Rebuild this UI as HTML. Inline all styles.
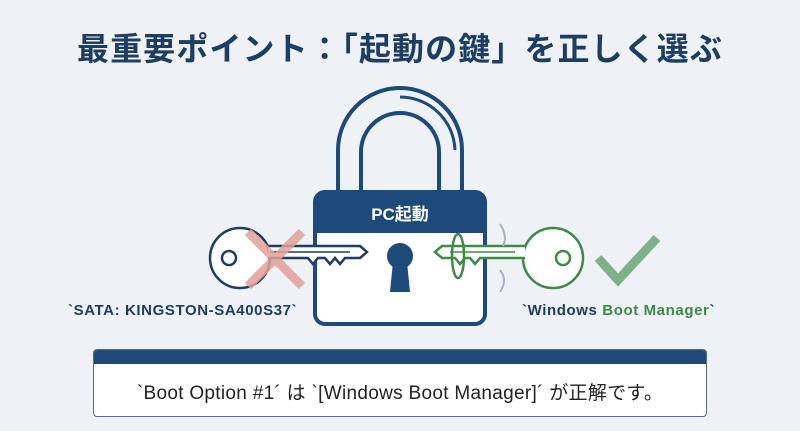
<!DOCTYPE html>
<html><head><meta charset="utf-8"><style>
body{margin:0;width:800px;height:431px;background:#eef1f5;overflow:hidden;position:relative;font-family:"Liberation Sans","Noto Sans CJK JP",sans-serif}
.t{position:absolute;left:0;width:800px;text-align:center;top:24px;font-size:32px;font-weight:bold;color:#1d3d63;letter-spacing:1.1px}
.lab{position:absolute;font-size:15px;font-weight:bold;color:#1d3d63;top:302px;letter-spacing:0.6px}
.box{position:absolute;left:93px;top:349px;width:612px;height:66px;background:#fff;border:1px solid #5a6a80;border-radius:4px;overflow:hidden}
.box .h{height:14px;background:#1d4a7a}
.box .x{text-align:center;font-size:19px;color:#222;margin-top:14px;letter-spacing:0.3px}
</style></head><body>
<div class="t">最重要ポイント：「起動の鍵」を正しく選ぶ</div>
<svg width="800" height="431" style="position:absolute;left:0;top:0">
<path d="M338 192 V150 A62 62 0 0 1 462 150 V192" fill="none" stroke="#1d4a7a" stroke-width="4"/>
<path d="M361 192 V152 A39 39 0 0 1 439 152 V192" fill="none" stroke="#1d4a7a" stroke-width="4"/>
<path d="M400 97 A55 55 0 0 1 455 150" fill="none" stroke="#1d4a7a" stroke-width="3"/>
<rect x="315" y="192" width="170" height="132" rx="10" fill="#fff" stroke="#1d4a7a" stroke-width="4"/>
<path d="M315 202 A10 10 0 0 1 325 192 H475 A10 10 0 0 1 485 202 V233 H315Z" fill="#1d4a7a"/>
<text x="400" y="220" text-anchor="middle" font-size="17" font-weight="bold" fill="#fff" font-family="Liberation Sans,Noto Sans CJK JP,sans-serif">PC起動</text>
<circle cx="400" cy="256" r="13" fill="#1d4a7a"/>
<path d="M393 262 L390 292 H410 L407 262Z" fill="#1d4a7a"/>
<circle cx="240" cy="258" r="30" fill="#fff" stroke="#1d3d63" stroke-width="2.5"/>
<circle cx="229" cy="258" r="7" fill="none" stroke="#1d3d63" stroke-width="2.5"/>
<path d="M268 246 H360 L367 252 L360 258 H345 L340 264 L335 258 L330 264 L325 258 H318 L313 264 L308 258 H268" fill="#fff" stroke="#1d3d63" stroke-width="2.5"/>
<line x1="270" y1="252" x2="350" y2="252" stroke="#1d3d63" stroke-width="1.5"/>
<path d="M248 232 L302 286 M302 232 L248 286" stroke="#e3a09a" stroke-width="9" opacity="0.85"/>
<circle cx="553" cy="258" r="30" fill="#fff" stroke="#3f8a46" stroke-width="2.5"/>
<circle cx="563" cy="258" r="7" fill="none" stroke="#3f8a46" stroke-width="2.5"/>
<path d="M525 246 H442 L435 252 L442 258 H455 L460 264 L465 258 H470 L475 264 L480 258 H525" fill="#fff" stroke="#3f8a46" stroke-width="2.5"/>
<line x1="450" y1="252" x2="515" y2="252" stroke="#3f8a46" stroke-width="1.5"/>
<ellipse cx="458" cy="256" rx="6" ry="22" fill="none" stroke="#3f8a46" stroke-width="2.5"/>
<path d="M500 224 Q508 236 503 246 M500 270 Q508 280 500 292" fill="none" stroke="#aab4c0" stroke-width="2"/>
<path d="M598 258 L618 280 L657 238" fill="none" stroke="#7fb08a" stroke-width="9"/>
</svg>
<div class="lab" style="left:68px">`SATA: KINGSTON-SA400S37`</div>
<div class="lab" style="left:522px">`Windows <span style="color:#3f8a46">Boot Manager</span>`</div>
<div class="box"><div class="h"></div><div class="x">`Boot Option #1´ は `[Windows Boot Manager]´ が正解です。</div></div>
</body></html>
